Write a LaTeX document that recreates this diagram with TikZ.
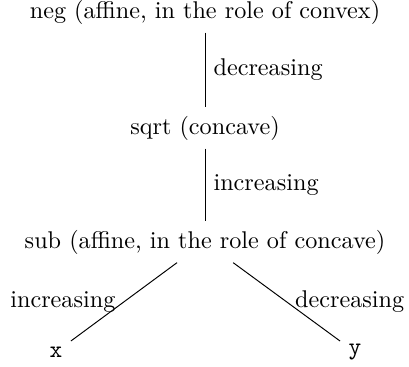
\documentclass[tikz,border=0pt]{standalone}
\usepackage{tikz}

\begin{document}
\begin{tikzpicture}[x=0.4132pt, y=-0.4132pt]
  \useasboundingbox (0,0) rectangle (409,366);
  % ---- expression tree, root at the top ----
  \node (neg)  at (205,12)  {neg (affine, in the role of convex)};
  \node (sqrt) at (205,128) {sqrt (concave)};
  \node (sub)  at (205,242) {sub (affine, in the role of concave)};
  \node (x)    at (56,352)  {\texttt{x}};
  \node (y)    at (355,352) {\texttt{y}};
  % ---- edges with monotonicity ----
  \draw (neg) -- node[right] {decreasing} (sqrt);
  \draw (sqrt) -- node[right] {increasing} (sub);
  \draw (sub) -- node[left] {increasing} (x);
  \draw (sub) -- node[right] {decreasing} (y);
\end{tikzpicture}
\end{document}
